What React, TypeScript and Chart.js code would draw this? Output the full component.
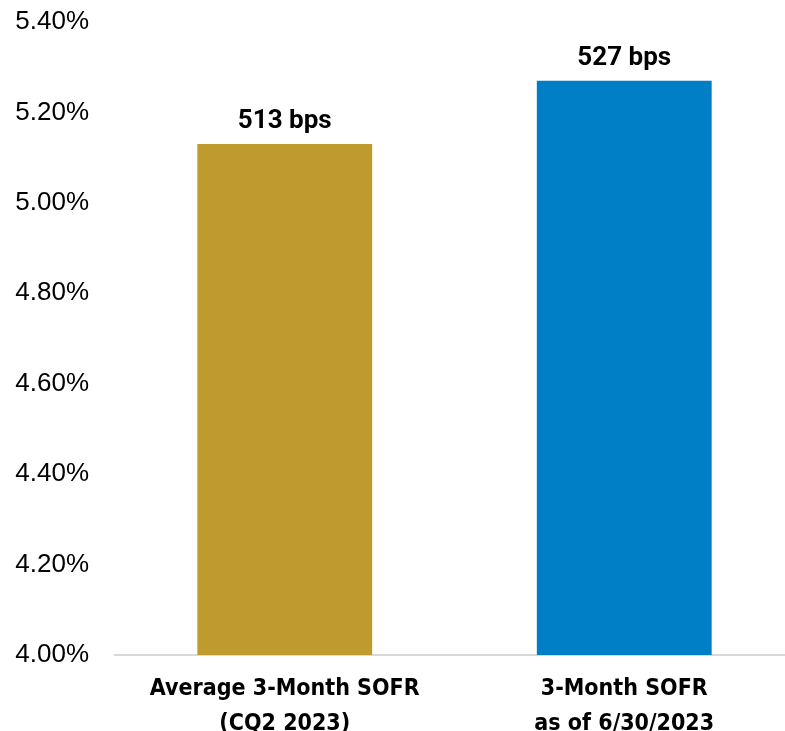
import React, { useEffect, useRef } from "react";
import { Chart, registerables } from "chart.js";

Chart.register(...registerables);

const categories: string[][] = [
  ["Average 3-Month SOFR", "(CQ2 2023)"],
  ["3-Month SOFR", "as of 6/30/2023"],
];
const values: number[] = [5.13, 5.27];
const valueLabels: string[] = ["513 bps", "527 bps"];
const barColors: string[] = ["#BF9A2E", "#007EC6"];
const yMin = 4.0;
const yMax = 5.4;
const yStep = 0.2;

const dataLabelPlugin = {
  id: "dataLabels",
  afterDatasetsDraw(chart: any) {
    const ctx = chart.ctx;
    const meta = chart.getDatasetMeta(0);
    ctx.save();
    ctx.fillStyle = "#000";
    ctx.font = "bold 26px Roboto, 'Liberation Sans', sans-serif";
    ctx.textAlign = "center";
    ctx.textBaseline = "alphabetic";
    meta.data.forEach((bar: any, i: number) => {
      ctx.fillText(valueLabels[i], bar.x, bar.y - 16);
    });
    ctx.restore();
  },
};

export default function App() {
  const ref = useRef<HTMLCanvasElement | null>(null);
  useEffect(() => {
    document.body.style.overflow = "hidden";
    document.documentElement.style.overflow = "hidden";
    if (!ref.current) return;
    const chart = new Chart(ref.current, {
      type: "bar",
      data: {
        labels: categories,
        datasets: [
          {
            data: values,
            backgroundColor: barColors,
            barPercentage: 0.515,
            categoryPercentage: 1,
          },
        ],
      },
      plugins: [dataLabelPlugin],
      options: {
        animation: false,
        responsive: false,
        maintainAspectRatio: false,
        layout: { padding: { top: 22, right: 0, bottom: 0, left: 0 } },
        plugins: { legend: { display: false }, tooltip: { enabled: false } },
        scales: {
          x: {
            grid: { display: false },
            border: { display: true, color: "#d9d9d9", width: 2 },
            ticks: {
              color: "#000",
              padding: 9,
              font: {
                family: "'DejaVu Sans Condensed', 'DejaVu Sans', sans-serif",
                weight: "bold",
                size: 23,
                lineHeight: 1.5,
              },
              maxRotation: 0,
              autoSkip: false,
            },
            afterFit(scale: any) {
              scale.height = 76;
              scale.paddingLeft = 0;
              scale.paddingRight = 0;
            },
          },
          y: {
            min: yMin,
            max: yMax,
            grid: { display: false },
            border: { display: false },
            ticks: {
              stepSize: yStep,
              color: "#000",
              padding: 18,
              font: {
                family: "'Liberation Sans', sans-serif",
                size: 26,
              },
              callback: (v: any) => Number(v).toFixed(2) + "%",
            },
            afterFit(scale: any) {
              scale.width = 115;
              scale.paddingTop = 0;
              scale.paddingBottom = 0;
            },
          },
        },
      },
    });
    return () => chart.destroy();
  }, []);
  return (
    <div style={{ position: "absolute", left: 0, top: 0, width: 794, height: 731 }}>
      <canvas ref={ref} width={794} height={731} style={{ display: "block" }} />
    </div>
  );
}
